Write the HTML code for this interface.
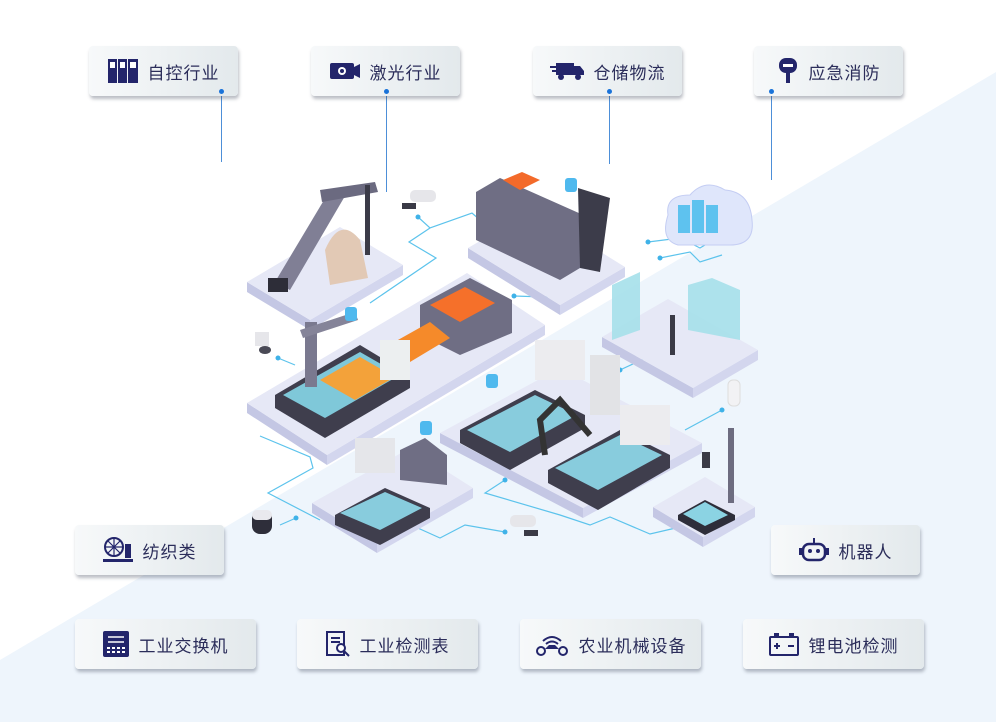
<!DOCTYPE html>
<html><head><meta charset="utf-8"><style>
body{margin:0;width:996px;height:722px;overflow:hidden;background:#fff;font-family:"Liberation Sans","Noto Sans CJK SC",sans-serif;position:relative}
.bg{position:absolute;left:0;top:0}
.b{position:absolute;height:50px;border-radius:4px;background:linear-gradient(90deg,#f7f9fa,#e3e9ec);box-shadow:1px 3px 3px rgba(60,70,90,.35);display:flex;align-items:center;justify-content:center;font-size:17px;color:#2b2d5a;letter-spacing:1px}
.b svg{margin-right:10px}
.dot{position:absolute;width:5px;height:5px;border-radius:50%;background:#1a73d9}
.vl{position:absolute;width:1px;background:#4d8fd8}
</style></head><body>
<svg class="bg" width="996" height="722">
<polygon points="0,660 996,72 996,722 0,722" fill="#eef5fc"/>
<g stroke="#5cc3ec" stroke-width="1.2" fill="none">
<polyline points="418,217 430,228 472,213 480,220"/>
<polyline points="430,228 409,242 436,258 370,303"/>
<polyline points="514,296 545,297 563,295"/>
<polyline points="278,358 295,365"/>
<polyline points="260,436 310,457 313,468 268,493 320,520"/>
<polyline points="280,525 296,518"/>
<polyline points="352,525 368,530 400,520 440,538 465,525 505,532"/>
<polyline points="505,480 485,493 560,515 590,525 610,517 650,534 680,527"/>
<polyline points="620,370 650,356"/>
<polyline points="685,430 722,410"/>
<polyline points="648,242 680,238 700,248 710,242 720,235"/>
<polyline points="660,258 690,252 700,262 722,255"/>
</g>
<g fill="#3fb2e8"><circle cx="418" cy="217" r="2.5"/><circle cx="514" cy="296" r="2.5"/><circle cx="278" cy="358" r="2.5"/><circle cx="296" cy="518" r="2.5"/><circle cx="352" cy="525" r="2.5"/><circle cx="505" cy="480" r="2.5"/><circle cx="505" cy="532" r="2.5"/><circle cx="680" cy="527" r="2.5"/><circle cx="620" cy="370" r="2.5"/><circle cx="722" cy="410" r="2.5"/><circle cx="648" cy="242" r="2.5"/><circle cx="660" cy="258" r="2.5"/></g>
<g>
<polygon points="247,282 310,320 310,330 247,292" fill="#c4c7e4"/><polygon points="310,320 403,265 403,275 310,330" fill="#d3d6ee"/><polygon points="247,282 340,227 403,265 310,320" fill="#e6e8f6"/>
<polygon points="468,248 560,305 560,315 468,258" fill="#c4c7e4"/><polygon points="560,305 625,267 625,277 560,315" fill="#d3d6ee"/><polygon points="468,248 533,210 625,267 560,305" fill="#e6e8f6"/>
<polygon points="247,403 327,455 327,465 247,413" fill="#c4c7e4"/><polygon points="327,455 545,325 545,335 327,465" fill="#d3d6ee"/><polygon points="247,403 467,273 545,325 327,455" fill="#e6e8f6"/>
<polygon points="602,337 693,388 693,398 602,347" fill="#c4c7e4"/><polygon points="693,388 758,350 758,360 693,398" fill="#d3d6ee"/><polygon points="602,337 668,299 758,350 693,388" fill="#e6e8f6"/>
<polygon points="440,433 583,508 583,518 440,443" fill="#c4c7e4"/><polygon points="583,508 702,443 702,453 583,518" fill="#d3d6ee"/><polygon points="440,433 560,368 702,443 583,508" fill="#e6e8f6"/>
<polygon points="312,503 377,543 377,553 312,513" fill="#c4c7e4"/><polygon points="377,543 473,488 473,498 377,553" fill="#d3d6ee"/><polygon points="312,503 410,448 473,488 377,543" fill="#e6e8f6"/>
<polygon points="653,507 703,537 703,547 653,517" fill="#c4c7e4"/><polygon points="703,537 755,507 755,517 703,547" fill="#d3d6ee"/><polygon points="653,507 705,477 755,507 703,537" fill="#e6e8f6"/>
</g>
<g>
<polygon points="275,282 330,190 345,196 290,290" fill="#807f95"/><polygon points="320,190 375,182 378,192 322,202" fill="#6b6a80"/>
<path d="M325,250 Q340,215 360,240 L368,278 L330,285Z" fill="#e2c9b5"/><rect x="365" y="185" width="5" height="70" fill="#3b3b48"/><rect x="268" y="278" width="20" height="14" fill="#2d2d38"/>
<polygon points="476,192 500,178 590,218 590,262 560,280 476,240" fill="#6f6e84"/><polygon points="503,180 520,190 540,180 522,172" fill="#f36a2a"/><polygon points="578,188 610,198 600,272 580,268" fill="#3c3c4a"/>
<polygon points="420,305 470,278 512,300 512,333 460,355 420,335" fill="#6f6e84"/><polygon points="430,305 465,287 495,303 460,322" fill="#f5702a"/>
<polygon points="380,350 430,322 450,338 400,368" fill="#f58a2a"/>
<polygon points="275,395 360,345 410,375 410,388 325,438 275,408" fill="#3f3e4d"/><polygon points="283,395 360,352 400,375 325,418" fill="#7fc8d9"/><polygon points="320,380 360,357 395,377 355,400" fill="#f3a23a"/>
<rect x="305" y="322" width="12" height="65" fill="#7a798f"/><polygon points="300,330 355,312 358,320 303,338" fill="#858499"/>
<rect x="380" y="340" width="30" height="40" fill="#eceff0"/>
<polygon points="612,285 640,272 640,330 612,340" fill="#a5e0ea" opacity=".9"/><polygon points="688,285 712,278 740,290 740,340 688,330" fill="#a5e0ea" opacity=".9"/><rect x="670" y="315" width="5" height="40" fill="#3a3a46"/>
<path d="M668,215 Q665,195 690,195 Q705,178 725,190 Q750,192 752,220 Q755,245 730,245 L678,245 Q660,240 668,215Z" fill="#dfe6fb" stroke="#c4cdf3"/><g fill="#5ec2ef"><rect x="678" y="205" width="12" height="28"/><rect x="692" y="200" width="12" height="33"/><rect x="706" y="205" width="12" height="28"/></g>
<polygon points="460,430 535,390 585,415 585,428 510,470 460,443" fill="#3f3e4d"/><polygon points="467,430 535,395 577,415 510,452" fill="#88ccdd"/>
<rect x="535" y="340" width="50" height="40" fill="#ececef"/><rect x="590" y="355" width="30" height="60" fill="#e2e3e6"/>
<polygon points="548,470 620,430 670,455 670,468 598,510 548,483" fill="#3f3e4d"/><polygon points="555,468 620,435 662,455 598,490" fill="#88ccdd"/>
<rect x="620" y="405" width="50" height="40" fill="#ececef"/><path d="M545,455 L540,420 L560,400 L590,435" stroke="#333" stroke-width="6" fill="none"/>
<polygon points="335,515 385,488 430,508 430,518 380,545 335,525" fill="#3f3e4d"/><polygon points="340,513 385,492 422,508 380,530" fill="#88ccdd"/>
<rect x="355" y="438" width="40" height="35" fill="#e5e6ea"/><polygon points="400,450 425,438 447,455 447,485 400,480" fill="#6f6e84"/>
<polygon points="678,515 705,500 735,515 735,520 705,535 678,520" fill="#2e2e3a"/><polygon points="683,514 705,502 728,515 705,526" fill="#8bd3e3"/><rect x="728" y="428" width="6" height="75" fill="#6d6c80"/><rect x="702" y="452" width="8" height="16" fill="#3a3a46"/>
<rect x="728" y="380" width="12" height="26" rx="5" fill="#f2f2f4" stroke="#ddd"/>
<rect x="410" y="190" width="26" height="12" rx="5" fill="#e6e6ea"/><rect x="402" y="203" width="14" height="6" fill="#3a3a46"/>
<rect x="510" y="515" width="26" height="12" rx="5" fill="#e6e6ea"/><rect x="524" y="530" width="14" height="6" fill="#3a3a46"/>
<rect x="252" y="510" width="20" height="24" rx="8" fill="#2e2e3a"/><rect x="252" y="510" width="20" height="10" rx="5" fill="#e9e9ee"/>
<rect x="255" y="332" width="14" height="14" fill="#e6e6ea"/><ellipse cx="265" cy="350" rx="6" ry="4" fill="#4a4a56"/>
</g>
<g fill="#4fb9ee"><rect x="345" y="307" width="12" height="14" rx="3"/><rect x="486" y="374" width="12" height="14" rx="3"/><rect x="420" y="421" width="12" height="14" rx="3"/><rect x="565" y="178" width="12" height="14" rx="3"/></g>
</svg>
<div class="vl" style="left:221px;top:92px;height:70px"></div>
<div class="vl" style="left:386px;top:92px;height:100px"></div>
<div class="vl" style="left:609px;top:92px;height:72px"></div>
<div class="vl" style="left:771px;top:92px;height:88px"></div>

<div class="b" style="left:89px;top:46px;width:149px"><svg width="30" height="24"><rect x="0" y="0" width="9" height="24" fill="#23256b"/><rect x="10" y="0" width="9" height="24" fill="#23256b"/><rect x="20" y="0" width="10" height="24" fill="#23256b"/><rect x="2" y="3" width="5" height="6" fill="#fff"/><rect x="12" y="3" width="5" height="6" fill="#fff"/><rect x="22" y="3" width="6" height="6" fill="#fff"/></svg>自控行业</div>
<div class="b" style="left:311px;top:46px;width:149px"><svg width="30" height="20"><rect x="0" y="2" width="24" height="16" rx="2" fill="#23256b"/><polygon points="24,6 30,3 30,17 24,14" fill="#23256b"/><circle cx="12" cy="10" r="4" fill="#fff"/><circle cx="12" cy="10" r="2" fill="#23256b"/></svg>激光行业</div>
<div class="b" style="left:533px;top:46px;width:149px"><svg width="34" height="20"><rect x="6" y="2" width="18" height="12" fill="#23256b"/><polygon points="24,5 30,5 34,10 34,14 24,14" fill="#23256b"/><circle cx="11" cy="16" r="3" fill="#23256b"/><circle cx="28" cy="16" r="3" fill="#23256b"/><rect x="0" y="5" width="6" height="2" fill="#23256b"/><rect x="2" y="9" width="4" height="2" fill="#23256b"/></svg>仓储物流</div>
<div class="b" style="left:754px;top:46px;width:149px"><svg width="22" height="26"><rect x="2" y="0" width="18" height="15" rx="7" fill="#23256b"/><rect x="6" y="6" width="10" height="3" fill="#fff"/><rect x="9" y="15" width="4" height="10" fill="#23256b"/></svg>应急消防</div>
<div class="b" style="left:75px;top:525px;width:149px"><svg width="30" height="28"><circle cx="11" cy="11" r="9" fill="none" stroke="#23256b" stroke-width="2"/><path d="M11,2V20M2,11H20M5,5L17,17M17,5L5,17" stroke="#23256b" stroke-width="1.2"/><rect x="0" y="23" width="30" height="3" fill="#23256b"/><rect x="22" y="8" width="6" height="14" fill="#23256b"/></svg>纺织类</div>
<div class="b" style="left:771px;top:525px;width:149px"><svg width="30" height="28"><rect x="4" y="8" width="22" height="16" rx="6" fill="none" stroke="#23256b" stroke-width="2.5"/><circle cx="11" cy="15" r="2" fill="#23256b"/><circle cx="19" cy="15" r="2" fill="#23256b"/><rect x="14" y="2" width="2" height="6" fill="#23256b"/><rect x="0" y="12" width="3" height="7" fill="#23256b"/><rect x="27" y="12" width="3" height="7" fill="#23256b"/></svg>机器人</div>
<div class="b" style="left:75px;top:619px;width:181px"><svg width="26" height="26"><rect x="0" y="0" width="26" height="26" rx="2" fill="#23256b"/><path d="M5,6H21M5,11H21" stroke="#fff" stroke-width="1.5"/><g fill="#fff"><rect x="4" y="16" width="3" height="2"/><rect x="9" y="16" width="3" height="2"/><rect x="14" y="16" width="3" height="2"/><rect x="19" y="16" width="3" height="2"/><rect x="4" y="20" width="3" height="2"/><rect x="9" y="20" width="3" height="2"/><rect x="14" y="20" width="3" height="2"/><rect x="19" y="20" width="3" height="2"/></g></svg>工业交换机</div>
<div class="b" style="left:297px;top:619px;width:181px"><svg width="24" height="26"><rect x="1" y="1" width="17" height="23" fill="none" stroke="#23256b" stroke-width="2"/><path d="M5,7H14M5,11H14" stroke="#23256b" stroke-width="2"/><circle cx="15" cy="17" r="4" fill="#fff" stroke="#23256b" stroke-width="2"/><path d="M18,20L23,25" stroke="#23256b" stroke-width="2"/></svg>工业检测表</div>
<div class="b" style="left:520px;top:619px;width:181px"><svg width="34" height="26"><path d="M8,10Q17,2 26,10M11,13Q17,8 23,13" fill="none" stroke="#23256b" stroke-width="2"/><polygon points="10,18 24,18 20,14 14,14" fill="#23256b"/><circle cx="6" cy="20" r="4" fill="none" stroke="#23256b" stroke-width="2"/><circle cx="28" cy="20" r="4" fill="none" stroke="#23256b" stroke-width="2"/></svg>农业机械设备</div>
<div class="b" style="left:743px;top:619px;width:181px"><svg width="30" height="24"><rect x="1" y="5" width="28" height="18" rx="1" fill="none" stroke="#23256b" stroke-width="2"/><rect x="5" y="1" width="5" height="4" fill="#23256b"/><rect x="20" y="1" width="5" height="4" fill="#23256b"/><path d="M5,14H11M8,11V17M19,14H25" stroke="#23256b" stroke-width="2"/></svg>锂电池检测</div>
<div class="dot" style="left:219px;top:89px"></div>
<div class="dot" style="left:384px;top:89px"></div>
<div class="dot" style="left:607px;top:89px"></div>
<div class="dot" style="left:769px;top:89px"></div>
</body></html>
